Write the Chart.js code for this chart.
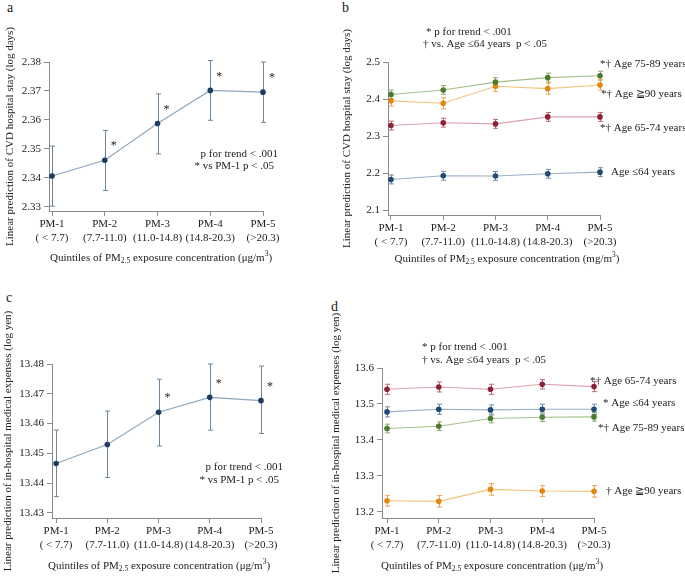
<!DOCTYPE html>
<html>
<head>
<meta charset="utf-8">
<script src="https://cdn.jsdelivr.net/npm/chart.js@4"></script>
<style>
  body { margin: 0; background: #fff; width: 685px; height: 581px; position: relative; overflow: hidden; font-family: "Liberation Serif", serif; color: #222; }
  canvas { position: absolute; }
  .letter { position: absolute; font-size: 14px; line-height: 14px; }
</style>
</head>
<body>
<div class="letter" style="left:7px;top:1px">a</div>
<div class="letter" style="left:342px;top:1px">b</div>
<div class="letter" style="left:6px;top:291px">c</div>
<div class="letter" style="left:331px;top:300px">d</div>
<canvas id="chartA" width="340" height="290" style="left:0;top:0"></canvas>
<canvas id="chartB" width="345" height="290" style="left:340px;top:0"></canvas>
<canvas id="chartC" width="340" height="291" style="left:0;top:290px"></canvas>
<canvas id="chartD" width="359" height="291" style="left:326px;top:290px"></canvas>
<script>
// quintile categories (x axis)
const quintiles = [
  ['PM-1', '( < 7.7)'],
  ['PM-2', '(7.7-11.0)'],
  ['PM-3', '(11.0-14.8)'],
  ['PM-4', '(14.8-20.3)'],
  ['PM-5', '(>20.3)']
];

// panel a - CVD hospital stay (log days), all ages
const meanA = [2.3407, 2.3461, 2.3588, 2.3702, 2.3696];
const lowA  = [2.3303, 2.3357, 2.3483, 2.3599, 2.3592];
const highA = [2.3510, 2.3564, 2.3690, 2.3805, 2.3800];
const sigA  = [false, true, true, true, true];
const ticksA = [2.33, 2.34, 2.35, 2.36, 2.37, 2.38];

// panel b - CVD hospital stay by age group
const b75to89 = [2.4120, 2.4245, 2.4455, 2.4577, 2.4630];
const b90plus = [2.3950, 2.3885, 2.4345, 2.4280, 2.4380];
const b65to74 = [2.3282, 2.3360, 2.3327, 2.3516, 2.3516];
const b64less = [2.1826, 2.1924, 2.1920, 2.1978, 2.2023];
const errB75to89 = [0.012, 0.012, 0.012, 0.012, 0.012];
const errB90plus = [0.014, 0.015, 0.014, 0.015, 0.014];
const errB65to74 = [0.012, 0.012, 0.012, 0.012, 0.012];
const errB64less = [0.012, 0.012, 0.012, 0.012, 0.012];
const ticksB = [2.1, 2.2, 2.3, 2.4, 2.5];

// panel c - in-hospital medical expenses (log yen), all ages
const meanC = [13.4466, 13.4530, 13.4638, 13.4688, 13.4677];
const lowC  = [13.4355, 13.4419, 13.4525, 13.4578, 13.4567];
const highC = [13.4578, 13.4642, 13.4749, 13.4800, 13.4793];
const sigC  = [false, false, true, true, true];
const ticksC = [13.43, 13.44, 13.45, 13.46, 13.47, 13.48];

// panel d - in-hospital medical expenses by age group
const d65to74 = [13.5409, 13.5473, 13.5409, 13.5547, 13.5483];
const d64less = [13.4780, 13.4855, 13.4836, 13.4855, 13.4855];
const d75to89 = [13.4319, 13.4383, 13.4596, 13.4633, 13.4642];
const d90plus = [13.2314, 13.2296, 13.2628, 13.2582, 13.2573];
const errD65to74 = [0.014, 0.014, 0.014, 0.013, 0.014];
const errD64less = [0.014, 0.014, 0.014, 0.014, 0.014];
const errD75to89 = [0.012, 0.012, 0.012, 0.012, 0.012];
const errD90plus = [0.015, 0.016, 0.016, 0.015, 0.016];
const ticksD = [13.2, 13.3, 13.4, 13.5, 13.6];

const serif = '"Liberation Serif", "Times New Roman", serif';
const textColor = '#222';
const axisColor = '#8a8a8a';
const fontSize = 11;

const colors = {
  navy:   { point: '#1d3c5f', line: '#8ea6bc', err: '#6a869d' },
  green:  { point: '#4b7b2c', line: '#a3bf8b', err: '#8aaa70' },
  orange: { point: '#e3860f', line: '#f1c47e', err: '#e9a64a' },
  red:    { point: '#8c2336', line: '#d9a3ab', err: '#b86a77' },
  blue:   { point: '#1f4a74', line: '#9db1c7', err: '#6f8ca9' }
};

function series(values, lo, hi, c, label) {
  return {
    data: values.map((v, i) => ({ x: i, y: v })),
    lo: lo,
    hi: hi,
    endLabel: label,
    borderColor: c.line,
    errColor: c.err,
    borderWidth: 1.1,
    tension: 0,
    pointRadius: 2.8,
    pointBackgroundColor: c.point,
    pointBorderColor: c.point,
    pointBorderWidth: 0,
    clip: false
  };
}

function grouped(values, err, c, label) {
  return series(values, values.map((v, i) => v - err[i]), values.map((v, i) => v + err[i]), c, label);
}

// vertical CI bars with caps
const errorBars = {
  id: 'errorBars',
  beforeDatasetsDraw(chart) {
    const { ctx, scales: { x, y } } = chart;
    chart.data.datasets.forEach(ds => {
      if (!ds.lo) return;
      ctx.save();
      ctx.strokeStyle = ds.errColor;
      ctx.lineWidth = 1;
      ds.data.forEach((p, i) => {
        const px = Math.round(x.getPixelForValue(p.x)) + 0.5;
        const y1 = y.getPixelForValue(ds.lo[i]);
        const y2 = y.getPixelForValue(ds.hi[i]);
        const cap = 2.5;
        ctx.beginPath();
        ctx.moveTo(px, y1); ctx.lineTo(px, y2);
        ctx.moveTo(px - cap, y1); ctx.lineTo(px + cap, y1);
        ctx.moveTo(px - cap, y2); ctx.lineTo(px + cap, y2);
        ctx.stroke();
      });
      ctx.restore();
    });
  }
};

function drawRich(ctx, parts, cx, cy) {
  let total = 0;
  parts.forEach(p => {
    ctx.font = ((p.sub || p.sup) ? fontSize * 0.68 : fontSize) + 'px ' + serif;
    p.w = ctx.measureText(p.t).width;
    total += p.w;
  });
  let x = cx - total / 2;
  ctx.textAlign = 'left';
  ctx.textBaseline = 'middle';
  parts.forEach(p => {
    ctx.font = ((p.sub || p.sup) ? fontSize * 0.68 : fontSize) + 'px ' + serif;
    ctx.fillText(p.t, x, cy + (p.sub ? 3 : p.sup ? -4 : 0));
    x += p.w;
  });
}

// stars, notes, series end labels and the x title
const panelText = {
  id: 'panelText',
  afterDraw(chart, args, opts) {
    const { ctx, chartArea, scales: { x, y } } = chart;
    ctx.save();
    ctx.fillStyle = textColor;
    ctx.font = fontSize + 'px ' + serif;
    ctx.textBaseline = 'middle';

    if (opts.sig) {
      const ds = chart.data.datasets[0];
      ctx.textAlign = 'center';
      ctx.font = (fontSize + 1) + 'px ' + serif;
      opts.sig.forEach((s, i) => {
        if (!s) return;
        ctx.fillText('*', x.getPixelForValue(i) + 9, y.getPixelForValue(ds.data[i].y) - 14);
      });
      ctx.font = fontSize + 'px ' + serif;
    }

    (opts.notes || []).forEach(n => {
      ctx.textAlign = n.align;
      ctx.fillText(n.text, n.x, n.y);
    });

    ctx.textAlign = 'left';
    chart.data.datasets.forEach(ds => {
      if (!ds.endLabel) return;
      const last = ds.data[ds.data.length - 1];
      ctx.fillText(ds.endLabel.text, x.getPixelForValue(last.x) + ds.endLabel.dx, y.getPixelForValue(last.y) + ds.endLabel.dy);
    });

    drawRich(ctx, [
      { t: 'Quintiles of PM' },
      { t: '2.5', sub: true },
      { t: ' exposure concentration (' + opts.unit },
      { t: '3', sup: true },
      { t: ')' }
    ], opts.titleX, opts.titleY);
    ctx.restore();
  }
};

function buildChart(id, cfg) {
  const el = document.getElementById(id);
  const W = el.width, H = el.height;
  const font = { family: serif, size: fontSize };
  return new Chart(el, {
    type: 'line',
    data: { datasets: cfg.datasets },
    options: {
      responsive: false,
      animation: false,
      events: [],
      layout: { padding: { top: cfg.area.top, right: W - cfg.area.right, left: 0, bottom: 0 } },
      plugins: {
        legend: { display: false },
        tooltip: { enabled: false },
        panelText: cfg.text
      },
      scales: {
        x: {
          type: 'linear',
          min: cfg.xMin,
          max: quintiles.length - 1,
          border: { color: axisColor, width: 1 },
          grid: { drawOnChartArea: false, tickLength: 5, color: axisColor },
          afterBuildTicks: s => { s.ticks = quintiles.map((q, i) => ({ value: i })); },
          ticks: { font: font, color: textColor, padding: 2, maxRotation: 0, autoSkip: false, callback: v => quintiles[v] },
          afterFit: s => { s.height = H - cfg.area.bottom; }
        },
        y: {
          min: cfg.yMin,
          max: cfg.yMax,
          border: { color: axisColor, width: 1 },
          grid: { drawOnChartArea: false, tickLength: 5, color: axisColor },
          afterBuildTicks: s => { s.ticks = cfg.yTicks.map(v => ({ value: v })); },
          ticks: { font: font, color: textColor, padding: 3, callback: v => Number(v).toFixed(cfg.dp) },
          title: {
            display: true,
            text: cfg.yTitle,
            font: font,
            color: textColor,
            padding: { top: cfg.yTitleX - 6.6, bottom: 0 }
          },
          afterFit: s => { s.width = cfg.area.left; }
        }
      }
    },
    plugins: [errorBars, panelText]
  });
}

buildChart('chartA', {
  area: { left: 49, right: 263, top: 62, bottom: 211 },
  xMin: -0.057,
  yMin: 2.32862, yMax: 2.38, yTicks: ticksA, dp: 2,
  yTitle: 'Linear prediction of CVD hospital stay (log days)', yTitleX: 10,
  datasets: [series(meanA, lowA, highA, colors.navy, null)],
  text: {
    sig: sigA,
    notes: [
      { text: 'p for trend < .001', x: 278, y: 154, align: 'right' },
      { text: '* vs PM-1 p < .05', x: 274, y: 166, align: 'right' }
    ],
    unit: '\u03bcg/m', titleX: 161, titleY: 258
  }
});

buildChart('chartB', {
  area: { left: 48, right: 260, top: 62, bottom: 215 },
  xMin: -0.057,
  yMin: 2.08649, yMax: 2.5, yTicks: ticksB, dp: 1,
  yTitle: 'Linear prediction of CVD hospital stay (log days)', yTitleX: 7,
  datasets: [
    grouped(b75to89, errB75to89, colors.green, { text: '*\u2020 Age 75-89 years', dx: 0, dy: -12 }),
    grouped(b90plus, errB90plus, colors.orange, { text: '*\u2020 Age \u226790 years', dx: 1, dy: 9 }),
    grouped(b65to74, errB65to74, colors.red, { text: '*\u2020 Age 65-74 years', dx: 0, dy: 11 }),
    grouped(b64less, errB64less, colors.blue, { text: 'Age \u226464 years', dx: 11, dy: 0 })
  ],
  text: {
    notes: [
      { text: '* p for trend < .001', x: 86, y: 32, align: 'left' },
      { text: '\u2020 vs. Age \u226464 years  p < .05', x: 83, y: 44, align: 'left' }
    ],
    unit: 'mg/m', titleX: 167, titleY: 259
  }
});

buildChart('chartC', {
  area: { left: 52, right: 261, top: 74, bottom: 228 },
  xMin: -0.08,
  yMin: 13.42832, yMax: 13.48, yTicks: ticksC, dp: 2,
  yTitle: 'Linear prediction of in-hospital medical expenses (log yen)', yTitleX: 8,
  datasets: [series(meanC, lowC, highC, colors.navy, null)],
  text: {
    sig: sigC,
    notes: [
      { text: 'p for trend < .001', x: 283, y: 177, align: 'right' },
      { text: '* vs PM-1 p < .05', x: 279, y: 190, align: 'right' }
    ],
    unit: '\u03bcg/m', titleX: 159, titleY: 276
  }
});

buildChart('chartD', {
  area: { left: 56, right: 268, top: 78, bottom: 228 },
  xMin: -0.097,
  yMin: 13.18333, yMax: 13.6, yTicks: ticksD, dp: 1,
  yTitle: 'Linear prediction of in-hospital medical expenses (log yen)', yTitleX: 10,
  datasets: [
    grouped(d65to74, errD65to74, colors.red, { text: '*\u2020 Age 65-74 years', dx: -4, dy: -6 }),
    grouped(d64less, errD64less, colors.blue, { text: '* Age \u226464 years', dx: 9, dy: -6 }),
    grouped(d75to89, errD75to89, colors.green, { text: '*\u2020 Age 75-89 years', dx: 4, dy: 11 }),
    grouped(d90plus, errD90plus, colors.orange, { text: '\u2020 Age \u226790 years', dx: 12, dy: 0 })
  ],
  text: {
    notes: [
      { text: '* p for trend < .001', x: 96, y: 57, align: 'left' },
      { text: '\u2020 vs. Age \u226464 years  p < .05', x: 96, y: 70, align: 'left' }
    ],
    unit: '\u03bcg/m', titleX: 166, titleY: 276
  }
});
</script>
</body>
</html>
